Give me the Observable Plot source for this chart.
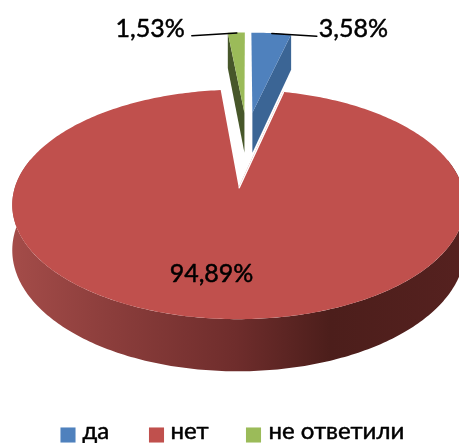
<!DOCTYPE html>
<html><head><meta charset="utf-8">
<style>html,body{margin:0;padding:0;background:#fff;overflow:hidden}svg{display:block;filter:blur(.45px)}</style>
<script src="https://cdn.jsdelivr.net/npm/d3@7"></script>
<script src="https://cdn.jsdelivr.net/npm/@observablehq/plot@0.6"></script>
</head><body><div id="chart"></div>
<script>
const categories = ["да", "нет", "не ответили"];
const shares = [3.58, 94.89, 1.53];
const shareLabels = ["3,58%", "94,89%", "1,53%"];
const topColors = ["#4f81bd", "#c0504d", "#9bbb59"];
const cutColors = ["#3b6595", "#c0504d", "#47572a"];

// Perspective view of the exploded disc
const view = {cx: 244, cy: 148, b: 212, a: 100.7, k: 0.142, depth: 42, explode: 0.37};
const nudgeX = [0, 0, 4];
const H = (u, v, z = 0, dx = 0) => {
  const w = 1 + view.k * v;
  return [view.cx + dx + view.b * u / w, view.cy - view.a * v / w + z * view.depth / w];
};
const total = d3.sum(shares);
let acc = 0;
const slices = shares.map((s, i) => {
  const a0 = acc / total * 2 * Math.PI;
  acc += s;
  const a1 = acc / total * 2 * Math.PI;
  const mid = (a0 + a1) / 2;
  const ou = view.explode * Math.sin(mid), ov = view.explode * Math.cos(mid);
  const P = (t, z = 0) => H(ou + Math.sin(t), ov + Math.cos(t), z, nudgeX[i]);
  const C = (z = 0) => H(ou, ov, z, nudgeX[i]);
  return {i, a0, a1, mid, P, C};
});

// top faces
const faces = slices.flatMap(s => {
  const n = Math.max(4, Math.round((s.a1 - s.a0) * 60));
  const [ax, ay] = s.C();
  return d3.range(n + 1).map(j => {
    const [x, y] = s.P(s.a0 + (s.a1 - s.a0) * j / n);
    return {cat: categories[s.i], x, y, ax, ay, fill: topColors[s.i]};
  });
});

// cut faces seen from the front: right of "да", left of "не ответили"
const cutRow = (s, t, seg) => {
  const [x0, y0] = s.C(), [, yb0] = s.C(1), [x1, y1] = s.P(t), [, yb1] = s.P(t, 1);
  return [{seg, x: x0, y1: y0, y2: yb0, fill: cutColors[s.i]}, {seg, x: x1, y1, y2: yb1, fill: cutColors[s.i]}];
};
const cuts = [...cutRow(slices[0], slices[0].a1, "a"), ...cutRow(slices[2], slices[2].a0, "b")];

// front wall of the large slice; shaded by a gradient along its width
const red = slices[1];
const wall = d3.range(241).map(j => {
  const t = Math.PI * 0.42 + Math.PI * 1.16 * j / 240;
  const [x, y1] = red.P(t), [, y2] = red.P(t, 1);
  return {x, y1, y2};
});
const gradStops = [[12, "#a44c49"], [100, "#8e3f3d"], [235, "#6f2d2c"], [330, "#4c1e1b"], [459, "#55211f"]];
const wallGradient = () => {
  const ns = "http://www.w3.org/2000/svg";
  const defs = document.createElementNS(ns, "defs");
  const g = document.createElementNS(ns, "linearGradient");
  g.setAttribute("id", "wallShade");
  g.setAttribute("gradientUnits", "userSpaceOnUse");
  g.setAttribute("x1", 0); g.setAttribute("x2", 459); g.setAttribute("y1", 0); g.setAttribute("y2", 0);
  for (const [x, c] of gradStops) {
    const s = document.createElementNS(ns, "stop");
    s.setAttribute("offset", x / 459);
    s.setAttribute("stop-color", c);
    g.append(s);
  }
  defs.append(g);
  return defs;
};

// separating white edge on the right side of the large slice
const [rax, ray] = red.C(), [rbx, rby] = red.P(red.a0);
const redEdge = [{x: rax, y: ray}, {x: rbx, y: rby}];

// leader lines and outer labels
const leaderOf = (s, dx, dy) => { const [x, y] = s.P(s.mid); return [{x, y}, {x: x + dx, y: y + dy}]; };
const leadBlue = leaderOf(slices[0], 45, 2.7);
const leadGreen = leaderOf(slices[2], -45, 2.7);

// legend rows
const legendSwatch = [67.5, 156, 253];
const legendText = [82, 170, 268];
const legend = categories.map((c, i) => ({c, sx: legendSwatch[i], tx: legendText[i], fill: topColors[i]}));

const font = {fontFamily: "Lato, 'Open Sans', sans-serif", fontWeight: 400, fill: "#000", stroke: "#000", strokeWidth: 0.5};

const chart = Plot.plot({
  width: 459, height: 443,
  margin: 0,
  x: {domain: [0, 459], range: [0, 459], axis: null},
  y: {domain: [0, 443], range: [0, 443], axis: null},
  style: {background: "#fff"},
  marks: [
    wallGradient,
    Plot.area(cuts, {x1: "x", y1: "y1", x2: "x", y2: "y2", z: "seg", fill: "fill"}),
    Plot.area(faces.filter(d => d.cat !== categories[1]), {x1: "x", y1: "y", x2: "ax", y2: "ay", z: "cat", fill: "fill"}),
    Plot.area(wall, {x1: "x", y1: "y1", x2: "x", y2: "y2", fill: "url(#wallShade)"}),
    Plot.area(faces.filter(d => d.cat === categories[1]), {x1: "x", y1: "y", x2: "ax", y2: "ay", z: "cat", fill: "fill"}),
    Plot.line(redEdge, {x: "x", y: "y", stroke: "#fff", strokeWidth: 1.5}),
    Plot.line(leadBlue, {x: "x", y: "y", stroke: "#000", strokeWidth: 1.5}),
    Plot.line(leadGreen, {x: "x", y: "y", stroke: "#000", strokeWidth: 1.5}),
    Plot.text([shareLabels[0]], {x: () => leadBlue[1].x + 2, y: () => 28, text: d => d, textAnchor: "start", fontSize: 25, ...font}),
    Plot.text([shareLabels[2]], {x: () => leadGreen[1].x - 7, y: () => 28, text: d => d, textAnchor: "end", fontSize: 25, ...font}),
    Plot.text([shareLabels[1]], {x: () => 211, y: () => 273, text: d => d, textAnchor: "middle", fontSize: 25, ...font}),
    Plot.dot(legend, {x: "sx", y: () => 434.5, symbol: "square", r: 8.5, fill: "fill", stroke: null}),
    Plot.text(legend, {x: "tx", y: () => 430.4, text: "c", textAnchor: "start", fontSize: 24, ...font})
  ]
});
document.getElementById("chart").append(chart);
</script></body></html>
